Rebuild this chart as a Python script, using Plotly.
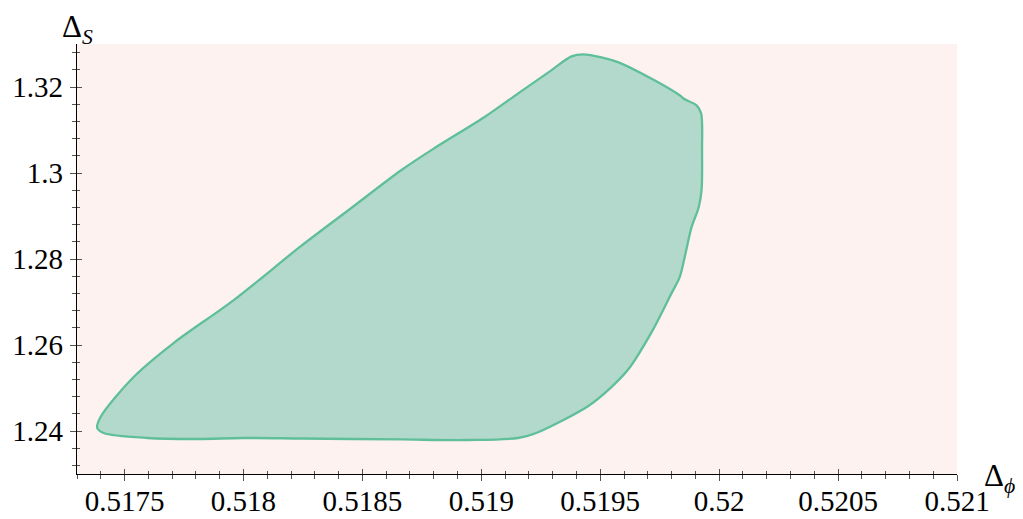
import plotly.graph_objects as go

# Outline of the allowed region (Delta_phi, Delta_S), traced counter-clockwise
delta_phi = [0.517385, 0.517412, 0.517597, 0.517807, 0.517997, 0.518241, 0.518663,
             0.518945, 0.519155, 0.519231, 0.519337, 0.519450, 0.519547, 0.519619,
             0.519716, 0.519800, 0.519834, 0.519855, 0.519884, 0.519914, 0.519926,
             0.519928, 0.519924, 0.519905, 0.519855, 0.519834, 0.519728, 0.519577,
             0.519505, 0.519429, 0.519379, 0.519294, 0.519155, 0.519012, 0.518802,
             0.518663, 0.518452, 0.518241, 0.517959, 0.517706, 0.517538,
             0.517399, 0.517385]
delta_s = [1.24070, 1.23954, 1.23837, 1.23814, 1.23837, 1.23826, 1.23803,
           1.23791, 1.23837, 1.23954, 1.24232, 1.24581, 1.25022, 1.25441,
           1.26300, 1.27206, 1.27578, 1.28043, 1.28740, 1.29204, 1.29600,
           1.30529, 1.31389, 1.31574, 1.31714, 1.31807, 1.32155, 1.32573,
           1.32690, 1.32759, 1.32713, 1.32388, 1.31853, 1.31296, 1.30575,
           1.30064, 1.29181, 1.28298, 1.27044, 1.26045, 1.25255,
           1.24325, 1.24070]

x_range = [0.5173, 0.521]
y_range = [1.23, 1.33]
x_ticks = [0.5175, 0.518, 0.5185, 0.519, 0.5195, 0.52, 0.5205, 0.521]
x_tick_labels = ["0.5175", "0.518", "0.5185", "0.519", "0.5195", "0.52", "0.5205", "0.521"]
y_ticks = [1.24, 1.26, 1.28, 1.30, 1.32]
y_tick_labels = ["1.24", "1.26", "1.28", "1.3", "1.32"]

FONT = "Liberation Serif"
TICKC = "#555555"

fig = go.Figure()
fig.add_trace(go.Scatter(
    x=delta_phi, y=delta_s, mode="lines", fill="toself",
    fillcolor="rgb(178,217,203)",
    line=dict(color="rgb(95,191,155)", width=2.3, shape="spline", smoothing=0.9),
    hoverinfo="skip", showlegend=False))
# invisible trace for the overlay axes (inward half of the crossing ticks)
fig.add_trace(go.Scatter(
    x=delta_phi, y=delta_s, mode="lines", line=dict(width=0), opacity=0,
    xaxis="x2", yaxis="y2", hoverinfo="skip", showlegend=False))

common = dict(showgrid=False, zeroline=False, automargin=False)
fig.update_layout(
    template="none",
    width=1015, height=511,
    margin=dict(l=69, r=66, t=36, b=45, pad=0),
    paper_bgcolor="white", plot_bgcolor="rgb(253,242,239)",
    font=dict(family=FONT, size=29, color="black"),
    xaxis=dict(range=x_range, tickvals=x_ticks, ticktext=x_tick_labels,
               showline=True, linecolor="black", linewidth=1.3,
               ticks="outside", ticklen=6, tickwidth=1, tickcolor=TICKC,
               minor=dict(ticks="outside", ticklen=4, dtick=0.0001, tick0=0.5173,
                          tickcolor=TICKC, tickwidth=1),
               ticklabelstandoff=-5,
               tickfont=dict(family=FONT, size=29, color="black"), **common),
    yaxis=dict(range=y_range, tickvals=y_ticks, ticktext=y_tick_labels,
               showline=True, linecolor="black", linewidth=1.3,
               ticks="outside", ticklen=6, tickwidth=1, tickcolor=TICKC,
               minor=dict(ticks="outside", ticklen=4, dtick=0.004, tick0=1.24,
                          tickcolor=TICKC, tickwidth=1),
               ticklabelstandoff=1,
               tickfont=dict(family=FONT, size=29, color="black"), **common),
    xaxis2=dict(range=x_range, overlaying="x", side="bottom", anchor="y2",
                tickvals=x_ticks, showticklabels=False,
                ticks="inside", ticklen=5, tickwidth=1, tickcolor=TICKC,
                minor=dict(ticks="inside", ticklen=3, dtick=0.0001, tick0=0.5173,
                           tickcolor=TICKC, tickwidth=1),
                showline=False, **common),
    yaxis2=dict(range=y_range, overlaying="y", side="left", anchor="x2",
                tickvals=y_ticks, showticklabels=False,
                ticks="inside", ticklen=5, tickwidth=1, tickcolor=TICKC,
                minor=dict(ticks="inside", ticklen=3, dtick=0.004, tick0=1.24,
                           tickcolor=TICKC, tickwidth=1),
                showline=False, **common),
    annotations=[
        dict(text="Δ<sub><i>S</i></sub>", xref="paper", yref="paper",
             x=0.0, y=1.036, xanchor="center", yanchor="middle",
             showarrow=False, font=dict(family=FONT, size=31, color="black")),
        dict(text="Δ<sub><i>ϕ</i></sub>", xref="paper", yref="paper",
             x=1.048, y=-0.01, xanchor="center", yanchor="middle",
             showarrow=False, font=dict(family=FONT, size=31, color="black")),
    ],
)

fig.write_html("out.html")
